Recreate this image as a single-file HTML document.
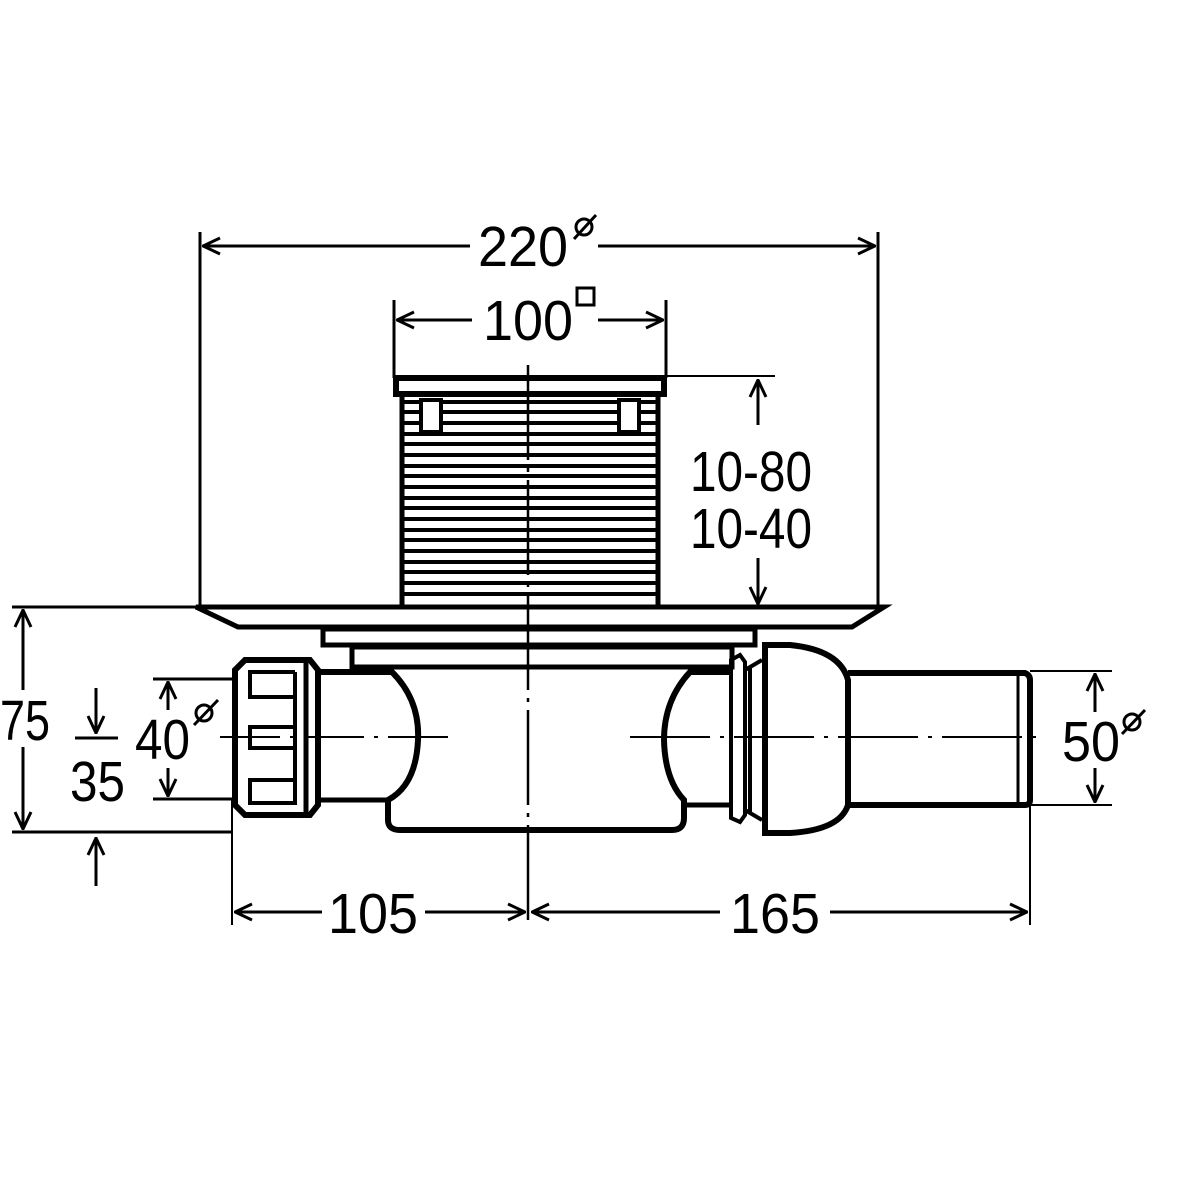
<!DOCTYPE html>
<html><head><style>
html,body{margin:0;padding:0;background:#fff;}
svg{display:block;}
text{font-family:"Liberation Sans Narrow","Liberation Sans",sans-serif;fill:#000;}
</style></head><body>
<svg width="1200" height="1200" viewBox="0 0 1200 1200" xmlns="http://www.w3.org/2000/svg">
<defs>
<marker id="a" viewBox="0 0 20 20" refX="19" refY="10" markerWidth="20" markerHeight="20" markerUnits="userSpaceOnUse" orient="auto">
<path d="M2 2 L19 10 L2 18" fill="none" stroke="#000" stroke-width="3"/>
</marker>
</defs>
<g stroke="#000" fill="none">
<line x1="200" y1="232" x2="200" y2="607" stroke-width="3"/>
<line x1="878" y1="232" x2="878" y2="607" stroke-width="3"/>
<line x1="470" y1="246" x2="203" y2="246" stroke-width="3" marker-end="url(#a)"/>
<line x1="598" y1="246" x2="875" y2="246" stroke-width="3" marker-end="url(#a)"/>
<line x1="394" y1="300" x2="394" y2="378" stroke-width="3"/>
<line x1="666" y1="300" x2="666" y2="378" stroke-width="3"/>
<line x1="472" y1="320" x2="397" y2="320" stroke-width="3" marker-end="url(#a)"/>
<line x1="598" y1="320" x2="663" y2="320" stroke-width="3" marker-end="url(#a)"/>
<line x1="666" y1="376" x2="775" y2="376" stroke-width="2"/>
<line x1="758" y1="425" x2="758" y2="380" stroke-width="3" marker-end="url(#a)"/>
<line x1="758" y1="558" x2="758" y2="604" stroke-width="3" marker-end="url(#a)"/>
<rect x="396" y="378" width="268" height="16" stroke-width="6"/>
<g stroke-width="5">
<line x1="402" y1="394" x2="402" y2="607"/>
<line x1="658" y1="394" x2="658" y2="607"/>
</g>
<g stroke-width="4">
<line x1="404" y1="402" x2="656" y2="402"/>
<line x1="404" y1="412" x2="656" y2="412"/>
<line x1="404" y1="423" x2="656" y2="423"/>
<line x1="404" y1="434" x2="656" y2="434"/>
<line x1="404" y1="444" x2="656" y2="444"/>
<line x1="404" y1="455" x2="656" y2="455"/>
<line x1="404" y1="466" x2="656" y2="466"/>
<line x1="404" y1="476" x2="656" y2="476"/>
<line x1="404" y1="487" x2="656" y2="487"/>
<line x1="404" y1="498" x2="656" y2="498"/>
<line x1="404" y1="508" x2="656" y2="508"/>
<line x1="404" y1="519" x2="656" y2="519"/>
<line x1="404" y1="530" x2="656" y2="530"/>
<line x1="404" y1="540" x2="656" y2="540"/>
<line x1="404" y1="551" x2="656" y2="551"/>
<line x1="404" y1="562" x2="656" y2="562"/>
<line x1="404" y1="572" x2="656" y2="572"/>
<line x1="404" y1="583" x2="656" y2="583"/>
<line x1="404" y1="594" x2="656" y2="594"/>
</g>
<rect x="421" y="400" width="20" height="32" fill="#fff" stroke-width="4"/>
<rect x="619" y="400" width="20" height="32" fill="#fff" stroke-width="4"/>
<path d="M196 607 L884 607 L852 627 L238 627 Z" stroke-width="5" fill="#fff"/>
<rect x="323" y="629" width="432" height="16" stroke-width="5"/>
<rect x="352" y="647" width="380" height="20" stroke-width="5"/>
<path d="M320 672 L392 672 Q420 700 418 740 Q416 785 388 800 L388 820 Q388 830 400 830 L672 830 Q684 830 684 818 L684 800 Q665 780 664 740 Q664 700 690 672 L730 672" stroke-width="6"/>
<line x1="320" y1="800" x2="388" y2="800" stroke-width="5"/>
<line x1="684" y1="805" x2="730" y2="805" stroke-width="5"/>
<path d="M245 660 L310 660 L318 670 L318 805 L310 815 L245 815 L235 805 L235 670 Z" stroke-width="6" fill="#fff"/>
<line x1="306" y1="662" x2="306" y2="813" stroke-width="5"/>
<path d="M295 672 L250 672 L250 697 L295 697 M295 727 L250 727 L250 748 L295 748 M295 780 L250 780 L250 803 L295 803 L295 672" stroke-width="4"/>
<path d="M731 660 L740 655 L745 662 L745 815 L740 822 L731 818 Z" stroke-width="4"/>
<path d="M745 670 L762 660 M745 810 L762 820 M750 668 L750 812" stroke-width="4"/>
<path d="M765 645 L790 645 Q840 650 848 680 L848 805 Q840 830 790 833 L765 833 Z" stroke-width="6" fill="#fff"/>
<path d="M848 673 L1025 673 Q1030 675 1030 680 L1030 800 Q1030 805 1025 805 L848 805" stroke-width="6"/>
<line x1="1018" y1="676" x2="1018" y2="802" stroke-width="3"/>
<line x1="528" y1="365" x2="528" y2="925" stroke-width="2.5" stroke-dasharray="95 8 4 8"/>
<line x1="220" y1="737" x2="450" y2="737" stroke-width="2" stroke-dasharray="60 10 4 10"/>
<line x1="630" y1="737" x2="1045" y2="737" stroke-width="2" stroke-dasharray="80 10 4 10"/>
<line x1="12" y1="607" x2="200" y2="607" stroke-width="3"/>
<line x1="12" y1="832" x2="232" y2="832" stroke-width="3"/>
<line x1="23" y1="690" x2="23" y2="610" stroke-width="3" marker-end="url(#a)"/>
<line x1="23" y1="747" x2="23" y2="829" stroke-width="3" marker-end="url(#a)"/>
<line x1="75" y1="738" x2="118" y2="738" stroke-width="3"/>
<line x1="96" y1="688" x2="96" y2="733" stroke-width="3" marker-end="url(#a)"/>
<line x1="96" y1="886" x2="96" y2="838" stroke-width="3" marker-end="url(#a)"/>
<line x1="153" y1="679" x2="232" y2="679" stroke-width="3"/>
<line x1="153" y1="799" x2="232" y2="799" stroke-width="3"/>
<line x1="168" y1="710" x2="168" y2="682" stroke-width="3" marker-end="url(#a)"/>
<line x1="168" y1="768" x2="168" y2="796" stroke-width="3" marker-end="url(#a)"/>
<line x1="1030" y1="671" x2="1112" y2="671" stroke-width="2"/>
<line x1="1030" y1="805" x2="1112" y2="805" stroke-width="2"/>
<line x1="1095" y1="712" x2="1095" y2="674" stroke-width="3" marker-end="url(#a)"/>
<line x1="1095" y1="768" x2="1095" y2="802" stroke-width="3" marker-end="url(#a)"/>
<line x1="232" y1="800" x2="232" y2="925" stroke-width="2"/>
<line x1="1030" y1="805" x2="1030" y2="925" stroke-width="2"/>
<line x1="322" y1="912" x2="235" y2="912" stroke-width="3" marker-end="url(#a)"/>
<line x1="425" y1="912" x2="525" y2="912" stroke-width="3" marker-end="url(#a)"/>
<line x1="720" y1="912" x2="532" y2="912" stroke-width="3" marker-end="url(#a)"/>
<line x1="830" y1="912" x2="1027" y2="912" stroke-width="3" marker-end="url(#a)"/>
</g>
<g stroke="#000" fill="none" stroke-width="3">
<circle cx="584" cy="227" r="8"/><line x1="574" y1="239" x2="596" y2="215"/>
<rect x="577" y="288" width="17" height="17"/>
<circle cx="204" cy="713" r="8"/><line x1="194" y1="725" x2="218" y2="700"/>
<circle cx="1132" cy="722" r="8"/><line x1="1122" y1="734" x2="1145" y2="710"/>
</g>
<g font-size="57">
<text x="478" y="266" textLength="90" lengthAdjust="spacingAndGlyphs">220</text>
<text x="483" y="340" textLength="90" lengthAdjust="spacingAndGlyphs">100</text>
<text x="690" y="491" textLength="122" lengthAdjust="spacingAndGlyphs">10-80</text>
<text x="690" y="548" textLength="122" lengthAdjust="spacingAndGlyphs">10-40</text>
<text x="0" y="740" textLength="50" lengthAdjust="spacingAndGlyphs">75</text>
<text x="70" y="801" textLength="55" lengthAdjust="spacingAndGlyphs">35</text>
<text x="135" y="759" textLength="55" lengthAdjust="spacingAndGlyphs">40</text>
<text x="1062" y="761" textLength="58" lengthAdjust="spacingAndGlyphs">50</text>
<text x="328" y="933" textLength="90" lengthAdjust="spacingAndGlyphs">105</text>
<text x="730" y="933" textLength="90" lengthAdjust="spacingAndGlyphs">165</text>
</g>
</svg>
</body></html>
